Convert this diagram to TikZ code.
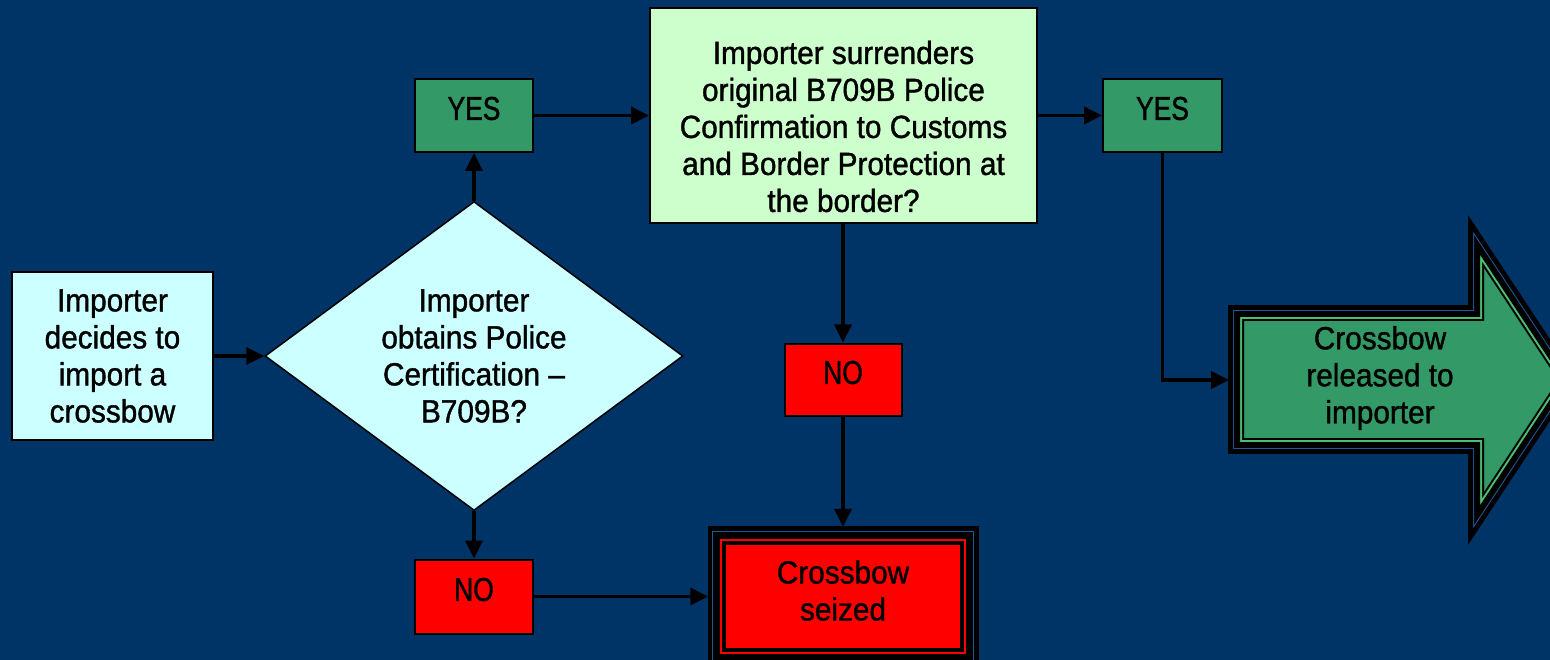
\documentclass[tikz,border=0pt]{standalone}
\usepackage{fontspec}
\setmainfont{Liberation Sans}[FakeStretch=0.93,FakeBold=1.2]
\newfontfamily\narrowfont{Liberation Sans}[FakeStretch=0.8,FakeBold=1.2]
\usetikzlibrary{shapes.geometric,arrows.meta}
\definecolor{bg}{HTML}{003366}
\definecolor{lcyan}{HTML}{CCFFFF}
\definecolor{lgreen}{HTML}{CCFFCC}
\definecolor{ygreen}{HTML}{339966}
\definecolor{nred}{HTML}{FF0000}
\definecolor{thinblue}{HTML}{1F5A99}
\definecolor{thingreen}{HTML}{4DBF73}
\tikzset{
  box/.style={draw=black, line width=2pt, rectangle, inner sep=0pt},
  maintext/.style={font=\fontsize{32}{37}\selectfont, align=center, text=black, inner sep=0pt},
  yntext/.style={font=\narrowfont\fontsize{33}{37}\selectfont, text=black, inner sep=0pt},
  conn/.style={line width=3.5pt, -{Triangle[length=18pt,width=17pt]}},
  arrowshape/.style={insert path={(1229,306) -- (1469,306) -- (1469,218) -- (1576,380) -- (1469,542) -- (1469,453) -- (1229,453) -- cycle}},
}
\begin{document}
\begin{tikzpicture}[x=1pt,y=-1pt, line join=miter]
\useasboundingbox (0,0) rectangle (1550,660);
\fill[bg] (0,0) rectangle (1550,660);

% start box
\node[box, fill=lcyan, minimum width=201pt, minimum height=168pt, maintext] (start) at (112.5,356) {Importer\\decides to\\import a\\crossbow};

% decision diamond
\node[diamond, draw=black, line width=1.5pt, fill=lcyan, minimum width=418pt, minimum height=309pt, aspect=1.35, maintext] (dec) at (474,356) {Importer\\obtains Police\\Certification –\\B709B?};

% YES / NO boxes
\node[box, fill=ygreen, minimum width=118pt, minimum height=73pt] (yes1) at (474,115.5) {};
\node[yntext] (yes1t) at ([yshift=7pt]yes1.center) {YES};
\node[box, fill=ygreen, minimum width=119pt, minimum height=73pt] (yes2) at (1162.5,115.5) {};
\node[yntext] (yes2t) at ([yshift=7pt]yes2.center) {YES};
\node[box, fill=nred, minimum width=117pt, minimum height=72pt] (no1) at (843,379.5) {};
\node[yntext] (no1t) at ([yshift=7pt]no1.center) {NO};
\node[box, fill=nred, minimum width=118pt, minimum height=74pt] (no2) at (474,596.5) {};
\node[yntext] (no2t) at ([yshift=7pt]no2.center) {NO};

% question box
\node[box, fill=lgreen, minimum width=387pt, minimum height=215pt] (q) at (843.5,115.5) {};
\node[maintext] (qt) at ([yshift=-11pt]q.center) {Importer surrenders\\original B709B Police\\Confirmation to Customs\\and Border Protection at\\the border?};

% seized box with layered border (outside -> inside: black, blue, black, red, black, fill)
\node[rectangle, minimum width=269pt, minimum height=139pt, inner sep=0pt] (seized) at (843,596.5) {};
\begin{scope}
  \clip (seized.north west) rectangle (seized.south east);
  \fill[nred] (seized.north west) rectangle (seized.south east);
  \draw[black, line width=36pt] (seized.north west) rectangle (seized.south east);
  \draw[nred, line width=28pt] (seized.north west) rectangle (seized.south east);
  \draw[black, line width=24pt] (seized.north west) rectangle (seized.south east);
  \draw[thinblue, line width=10pt] (seized.north west) rectangle (seized.south east);
  \draw[black, line width=8pt] (seized.north west) rectangle (seized.south east);
\end{scope}
\draw[black, line width=1.6pt] (seized.north west) rectangle (seized.south east);
\node[maintext] (seizedt) at ([yshift=6pt]seized.center) {Crossbow\\seized};

% released arrow with layered border
\begin{scope}
  \clip[arrowshape];
  \fill[ygreen, arrowshape];
  \draw[black, line width=30pt, arrowshape];
  \draw[thingreen, line width=26pt, arrowshape];
  \draw[black, line width=22pt, arrowshape];
  \draw[thinblue, line width=10pt, arrowshape];
  \draw[black, line width=8pt, arrowshape];
\end{scope}
\draw[black, line width=1.6pt, arrowshape];
\coordinate (arrowin) at (1229,380);
\node[maintext] (releasedt) at (1380,378) {Crossbow\\released to\\importer};

% connectors
\draw[conn] (start.east) -- (start.east -| dec.west);
\draw[conn] (dec.north) -- (yes1.south);
\draw[conn] (dec.south) -- (no2.north);
\draw[conn] (yes1.east) -- (q.west);
\draw[conn] (q.east) -- (yes2.west);
\draw[conn] (q.south -| no1.north) -- (no1.north);
\draw[conn] (no1.south) -- (seized.north);
\draw[conn] (no2.east) -- (no2.east -| seized.west);
\draw[conn] (yes2.south) |- (arrowin);
\end{tikzpicture}
\end{document}
